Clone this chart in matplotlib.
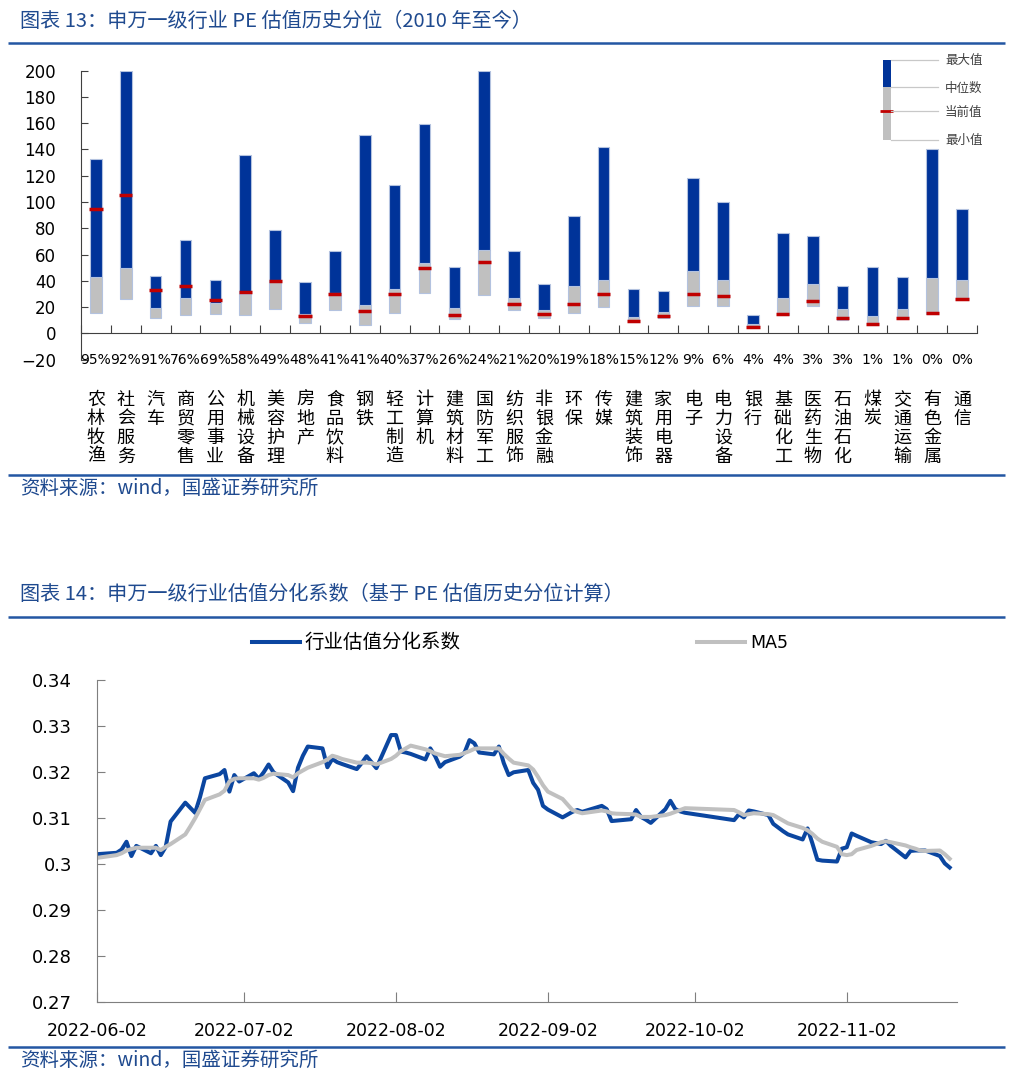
import matplotlib
matplotlib.use("Agg")
import matplotlib.pyplot as plt
import matplotlib.dates as mdates
import matplotlib.transforms as mtransforms
import matplotlib.ticker as mticker
import pandas as pd

plt.rcParams["font.family"] = ["DejaVu Sans", "Noto Sans CJK SC"]
CJK = ["Noto Sans CJK SC", "DejaVu Sans"]

# ── Figure 13 data : PE valuation range per industry ─────────────────────────
industries = [
    "农林牧渔", "社会服务", "汽车", "商贸零售", "公用事业", "机械设备", "美容护理",
    "房地产", "食品饮料", "钢铁", "轻工制造", "计算机", "建筑材料", "国防军工",
    "纺织服饰", "非银金融", "环保", "传媒", "建筑装饰", "家用电器", "电子",
    "电力设备", "银行", "基础化工", "医药生物", "石油石化", "煤炭", "交通运输",
    "有色金属", "通信",
]
pe_max = [133, 200, 43.4, 71.3, 40.4, 136, 79, 38.8, 63, 151, 113, 159.6, 50.5, 200,
          63, 37.8, 89.6, 141.9, 33.5, 32.2, 118, 99.7, 14.2, 76.6, 74.4, 36.3, 50.8,
          43.1, 140.4, 95]
pe_median = [42.6, 50, 19.3, 27.2, 23.4, 29.7, 39.3, 14.5, 31, 21.3, 33.8, 53.3, 19,
             63.2, 27.2, 17.5, 35.8, 40.6, 12.7, 16.5, 47.5, 40.4, 6.9, 26.9, 37.8,
             18.8, 12.9, 18.5, 42.4, 40.4]
pe_min = [15.7, 25.9, 11.9, 14, 14.7, 13.7, 18.3, 7.6, 17.5, 6.6, 15.2, 30.5, 10.9, 29,
          17.5, 11.9, 15.7, 20.3, 8.9, 11.9, 21, 21, 4.6, 13.7, 21, 10.2, 6.3, 10.7,
          14.7, 25.4]
pe_current = [94.4, 105, 32.7, 36.3, 25.4, 31.2, 39.8, 13.2, 30, 17, 29.7, 50, 14, 54.3,
              22.3, 14.5, 22.6, 30.2, 9.6, 13.2, 30.2, 28.7, 5.1, 14.7, 24.4, 11.7, 7.1,
              11.7, 15.2, 25.9]
pe_pct = [95, 92, 91, 76, 69, 58, 49, 48, 41, 41, 40, 37, 26, 24, 21, 20, 19, 18, 15, 12,
          9, 6, 4, 4, 3, 3, 1, 1, 0, 0]

# ── Figure 14 data : dispersion coefficient (trading days) ───────────────────
cn_holidays = ["2022-06-03", "2022-09-12", "2022-10-03", "2022-10-04",
               "2022-10-05", "2022-10-06", "2022-10-07"]
dates = pd.bdate_range("2022-06-02", "2022-11-23", freq="C", holidays=cn_holidays)

dispersion = [
    0.3022, 0.3025, 0.3032, 0.3049, 0.3018, 0.3040, 0.3024, 0.3040, 0.3020, 0.3038,
    0.3093, 0.3134, 0.3123, 0.3112, 0.3146, 0.3187, 0.3196, 0.3205, 0.3158, 0.3194,
    0.3180, 0.3198, 0.3186, 0.3200, 0.3217, 0.3200, 0.3178, 0.3159, 0.3210, 0.3236,
    0.3256, 0.3252, 0.3211, 0.3229, 0.3222, 0.3218, 0.3207, 0.3220, 0.3235, 0.3222,
    0.3209, 0.3281, 0.3281, 0.3245, 0.3243, 0.3240, 0.3228, 0.3252, 0.3235, 0.3212,
    0.3222, 0.3234, 0.3243, 0.3270, 0.3263, 0.3243, 0.3239, 0.3256, 0.3220, 0.3194,
    0.3200, 0.3205, 0.3177, 0.3162, 0.3127, 0.3119, 0.3102, 0.3108, 0.3114, 0.3118,
    0.3114, 0.3127, 0.3120, 0.3094, 0.3095, 0.3098, 0.3118, 0.3103, 0.3097, 0.3090,
    0.3120, 0.3138, 0.3120, 0.3115, 0.3112, 0.3096, 0.3109, 0.3102, 0.3117, 0.3115,
    0.3107, 0.3088, 0.3080, 0.3072, 0.3065, 0.3054, 0.3078, 0.3045, 0.3010, 0.3008,
    0.3006, 0.3034, 0.3037, 0.3067, 0.3062, 0.3048, 0.3046, 0.3044, 0.3051, 0.3040,
    0.3015, 0.3029, 0.3030, 0.3030, 0.3030, 0.3018, 0.3002, 0.2993,
]
ma5 = [
    0.3014, 0.3020, 0.3024, 0.3030, 0.3033, 0.3036, 0.3036, 0.3036, 0.3031, 0.3038,
    0.3044, 0.3065, 0.3082, 0.3100, 0.3120, 0.3140, 0.3152, 0.3160, 0.3180, 0.3186,
    0.3187, 0.3187, 0.3184, 0.3188, 0.3194, 0.3197, 0.3194, 0.3189, 0.3198, 0.3204,
    0.3210, 0.3222, 0.3228, 0.3236, 0.3233, 0.3229, 0.3221, 0.3221, 0.3221, 0.3220,
    0.3217, 0.3229, 0.3236, 0.3246, 0.3252, 0.3258, 0.3250, 0.3246, 0.3241, 0.3238,
    0.3235, 0.3238, 0.3242, 0.3246, 0.3251, 0.3252, 0.3252, 0.3252, 0.3240, 0.3230,
    0.3221, 0.3215, 0.3206, 0.3190, 0.3172, 0.3158, 0.3142, 0.3130, 0.3118, 0.3114,
    0.3111, 0.3117, 0.3115, 0.3111, 0.3110, 0.3109, 0.3108, 0.3103, 0.3103, 0.3103,
    0.3107, 0.3110, 0.3114, 0.3118, 0.3122, 0.3118, 0.3113, 0.3107, 0.3109, 0.3111,
    0.3109, 0.3107, 0.3101, 0.3095, 0.3089, 0.3079, 0.3074, 0.3066, 0.3056, 0.3049,
    0.3038, 0.3022, 0.3020, 0.3022, 0.3031, 0.3040, 0.3044, 0.3048, 0.3050, 0.3048,
    0.3041, 0.3037, 0.3034, 0.3030, 0.3029, 0.3030, 0.3022, 0.3012,
]
month_ticks = ["2022-06-02", "2022-07-02", "2022-08-02", "2022-09-02",
               "2022-10-02", "2022-11-02"]

BLUE_BAR = "#003399"
GREY_BAR = "#c0c0c0"
RED = "#c00000"
EDGE = "#b3c2df"
LINE_BLUE = "#0b46a0"
LINE_GREY = "#c0c0c0"
HEAD_BLUE = "#1f4a8f"
RULE_BLUE = "#2356a3"

W, H = 1020, 1080
fig = plt.figure(figsize=(W / 100, H / 100), dpi=100, facecolor="white")


def px_box(x0, y0, x1, y1):
    """pixel box (top-left origin) -> figure fraction rect"""
    return [x0 / W, 1 - y1 / H, (x1 - x0) / W, (y1 - y0) / H]


# overlay in pixel coordinates for headings, rules and legend
ov = fig.add_axes([0, 0, 1, 1])
ov.set_xlim(0, W)
ov.set_ylim(H, 0)
ov.axis("off")
ov.patch.set_visible(False)

for y in (43, 475, 617, 1047):
    ov.plot([8, 1005], [y, y], color=RULE_BLUE, linewidth=1.8, solid_capstyle="butt")

ov.text(20, 21, "图表 13：申万一级行业 PE 估值历史分位（2010 年至今）", fontsize=14.5,
        color=HEAD_BLUE, va="center", ha="left", family=CJK)
ov.text(20, 594, "图表 14：申万一级行业估值分化系数（基于 PE 估值历史分位计算）", fontsize=14.5,
        color=HEAD_BLUE, va="center", ha="left", family=CJK)
for y in (488, 1060):
    ov.text(20, y, "资料来源：wind，国盛证券研究所", fontsize=14, color=HEAD_BLUE,
            va="center", ha="left", family=CJK)

# legend of figure 13 (schematic bar)
ov.add_patch(plt.Rectangle((883, 59.5), 8, 27.5, facecolor=BLUE_BAR, edgecolor="none"))
ov.add_patch(plt.Rectangle((883, 87), 8, 52.5, facecolor=GREY_BAR, edgecolor="none"))
ov.plot([880.5, 893], [111, 111], color=RED, linewidth=2, solid_capstyle="butt")
for y, lab in zip((59.5, 87, 111, 139.5), ("最大值", "中位数", "当前值", "最小值")):
    ov.plot([891, 938], [y, y], color="#c8c8c8", linewidth=0.9)
    ov.text(945, y + 1, lab, fontsize=9, color="#404040", va="center", ha="left", family=CJK)

# legend of figure 14
ov.plot([252, 300], [642, 642], color=LINE_BLUE, linewidth=2.9)
ov.text(305, 642, "行业估值分化系数", fontsize=14, color="black", va="center", ha="left",
        family=CJK)
ov.plot([697, 745], [642, 642], color=LINE_GREY, linewidth=2.9)
ov.text(750, 643, "MA5", fontsize=12.5, color="black", va="center", ha="left")

# ── Figure 13 ────────────────────────────────────────────────────────────────
ax1 = fig.add_axes(px_box(81, 70.7, 977, 359.6))
x = list(range(len(industries)))
low_h = [m - lo for m, lo in zip(pe_median, pe_min)]
high_h = [mx - m for mx, m in zip(pe_max, pe_median)]
ax1.bar(x, low_h, bottom=pe_min, width=0.39, color=GREY_BAR, edgecolor=EDGE, linewidth=0.8)
ax1.bar(x, high_h, bottom=pe_median, width=0.39, color=BLUE_BAR, edgecolor=EDGE, linewidth=0.8)
ax1.hlines(pe_current, [i - 0.22 for i in x], [i + 0.22 for i in x], color=RED,
           linewidth=2.5, zorder=3)

ax1.set_xlim(-0.5, len(industries) - 0.5)
ax1.set_ylim(-20, 200)
ax1.set_yticks(range(-20, 201, 20))
ax1.tick_params(axis="y", direction="in", length=5, labelsize=12, pad=18, color="#404040")
ax1.set_xticks([i - 0.5 for i in range(len(industries) + 1)])
ax1.set_xticklabels([])
ax1.tick_params(axis="x", direction="in", length=6, color="#404040")
for s in ("top", "right"):
    ax1.spines[s].set_visible(False)
ax1.spines["bottom"].set_position(("data", 0))
ax1.spines["left"].set_color("#404040")
ax1.spines["bottom"].set_color("#404040")
ax1.patch.set_visible(False)

for i, p in enumerate(pe_pct):
    ax1.text(i, -20, f"{p}%", ha="center", va="center", fontsize=10, clip_on=False)

lab_tr = mtransforms.blended_transform_factory(ax1.transData, ov.transData)
for i, name in enumerate(industries):
    for k, ch in enumerate(name):
        ov.text(i, 400 + k * 18.9, ch, transform=lab_tr, ha="center", va="center",
                fontsize=13, family=CJK, color="black")

# ── Figure 14 ────────────────────────────────────────────────────────────────
ax2 = fig.add_axes(px_box(97.1, 680.3, 956.6, 1002.3))
ax2.plot(dates, dispersion, color=LINE_BLUE, linewidth=2.9, solid_joinstyle="round")
ax2.plot(dates, ma5, color=LINE_GREY, linewidth=2.9, solid_joinstyle="round")

ax2.set_xlim(pd.Timestamp("2022-06-02"), pd.Timestamp("2022-11-24 10:00"))
ax2.set_ylim(0.27, 0.34)
ax2.set_yticks([0.27, 0.28, 0.29, 0.30, 0.31, 0.32, 0.33, 0.34])
ax2.yaxis.set_major_formatter(mticker.FuncFormatter(
    lambda v, _: f"{v:.2f}".rstrip("0")))
ax2.set_xticks(pd.to_datetime(month_ticks))
ax2.xaxis.set_major_formatter(mdates.DateFormatter("%Y-%m-%d"))
ax2.tick_params(axis="y", direction="in", length=6, labelsize=13, pad=18, color="#7f7f7f")
ax2.tick_params(axis="x", direction="in", length=7, labelsize=12.5, pad=14, color="#7f7f7f")
for s in ("top", "right"):
    ax2.spines[s].set_visible(False)
for s in ("left", "bottom"):
    ax2.spines[s].set_color("#7f7f7f")
ax2.patch.set_visible(False)

fig.savefig("out.png", dpi=100, facecolor="white")
